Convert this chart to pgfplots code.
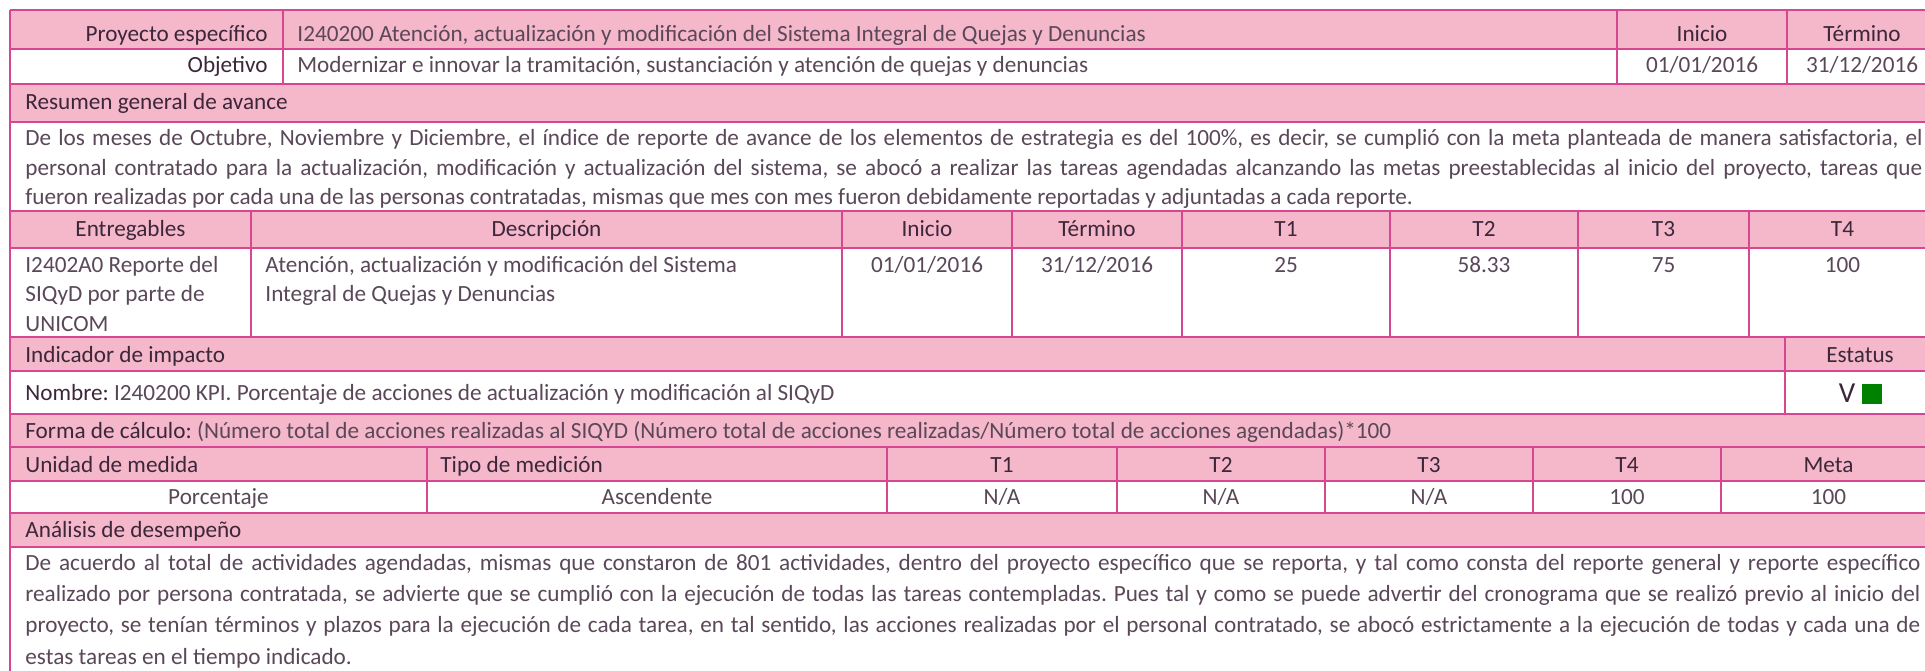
\documentclass[border=0pt]{standalone}
\usepackage{fontspec}
\setmainfont{Carlito}
\usepackage{pgfplots}
\pgfplotsset{compat=1.18}
\definecolor{hdr}{HTML}{F4B8CA}
\definecolor{bdr}{HTML}{D74691}
\definecolor{tH}{HTML}{3C2639}
\definecolor{tB}{HTML}{5A4758}
\definecolor{okgreen}{HTML}{008000}
\newcommand\J[2]{\hbox to #1{\frenchspacing\spaceskip=0.226em plus 3em minus 0.12em\relax #2}}
\begin{document}
\frenchspacing
\fontsize{11.6pt}{14pt}\selectfont
\begin{tikzpicture}
\useasboundingbox (0,0) rectangle (962.5pt,335pt);
\tikzset{
  L/.style={anchor=base west, inner sep=0pt, text=tB},
  R/.style={anchor=base east, inner sep=0pt, text=tB},
  C/.style={anchor=base, inner sep=0pt, text=tB},
  H/.style={text=tH},
  B/.style={draw=bdr, line width=1pt},
}
\begin{axis}[
  at={(0,0)}, anchor=south west,
  scale only axis, width=962.5pt, height=335pt,
  xmin=0, xmax=1925, ymin=0, ymax=670, y dir=reverse,
  axis lines=none, clip=true,
]
% pink header rows
\addplot[fill=hdr, draw=none] coordinates {(10,10) (1940,10) (1940,49) (10,49)} -- cycle;
\addplot[fill=hdr, draw=none] coordinates {(10,84) (1940,84) (1940,122) (10,122)} -- cycle;
\addplot[fill=hdr, draw=none] coordinates {(10,211) (1940,211) (1940,248) (10,248)} -- cycle;
\addplot[fill=hdr, draw=none] coordinates {(10,337) (1940,337) (1940,371) (10,371)} -- cycle;
\addplot[fill=hdr, draw=none] coordinates {(10,414) (1940,414) (1940,481) (10,481)} -- cycle;
\addplot[fill=hdr, draw=none] coordinates {(10,513) (1940,513) (1940,547) (10,547)} -- cycle;
% horizontal rules
\draw[B] (axis cs:10,10) -- (axis cs:1940,10);
\draw[B] (axis cs:10,49) -- (axis cs:1940,49);
\draw[B] (axis cs:10,84) -- (axis cs:1940,84);
\draw[B] (axis cs:10,122) -- (axis cs:1940,122);
\draw[B] (axis cs:10,211) -- (axis cs:1940,211);
\draw[B] (axis cs:10,248) -- (axis cs:1940,248);
\draw[B] (axis cs:10,337) -- (axis cs:1940,337);
\draw[B] (axis cs:10,371) -- (axis cs:1940,371);
\draw[B] (axis cs:10,414) -- (axis cs:1940,414);
\draw[B] (axis cs:10,447) -- (axis cs:1940,447);
\draw[B] (axis cs:10,481) -- (axis cs:1940,481);
\draw[B] (axis cs:10,513) -- (axis cs:1940,513);
\draw[B] (axis cs:10,547) -- (axis cs:1940,547);
% vertical rules
\draw[B] (axis cs:10,10) -- (axis cs:10,680);
\draw[B] (axis cs:283,10) -- (axis cs:283,84);
\draw[B] (axis cs:1617,10) -- (axis cs:1617,84);
\draw[B] (axis cs:1787,10) -- (axis cs:1787,84);
\draw[B] (axis cs:251,211) -- (axis cs:251,337);
\draw[B] (axis cs:842,211) -- (axis cs:842,337);
\draw[B] (axis cs:1012,211) -- (axis cs:1012,337);
\draw[B] (axis cs:1182,211) -- (axis cs:1182,337);
\draw[B] (axis cs:1390,211) -- (axis cs:1390,337);
\draw[B] (axis cs:1578,211) -- (axis cs:1578,337);
\draw[B] (axis cs:1749,211) -- (axis cs:1749,337);
\draw[B] (axis cs:1785,337) -- (axis cs:1785,414);
\draw[B] (axis cs:427,447) -- (axis cs:427,513);
\draw[B] (axis cs:887,447) -- (axis cs:887,513);
\draw[B] (axis cs:1117,447) -- (axis cs:1117,513);
\draw[B] (axis cs:1325,447) -- (axis cs:1325,513);
\draw[B] (axis cs:1533,447) -- (axis cs:1533,513);
\draw[B] (axis cs:1721,447) -- (axis cs:1721,513);
% row 1-2
\node[R,H] at (axis cs:268,41.5) {Proyecto específico};
\node[L] at (axis cs:297,41.5) {I240200 Atención, actualización y modificación del Sistema Integral de Quejas y Denuncias};
\node[C,H] at (axis cs:1702,41.5) {Inicio};
\node[C,H] at (axis cs:1862,41.5) {Término};
\node[R,H] at (axis cs:268,72.3) {Objetivo};
\node[L] at (axis cs:297,72.3) {Modernizar e innovar la tramitación, sustanciación y atención de quejas y denuncias};
\node[C] at (axis cs:1702,72.3) {01/01/2016};
\node[C] at (axis cs:1862,72.3) {31/12/2016};
% resumen
\node[L,H] at (axis cs:25,109) {Resumen general de avance};
\node[L] at (axis cs:25,145.7) {\J{948.5pt}{De los meses de Octubre, Noviembre y Diciembre, el índice de reporte de avance de los elementos de estrategia es del 100\%, es decir, se cumplió con la meta planteada de manera satisfactoria, el}};
\node[L] at (axis cs:25,175) {\J{948.5pt}{personal contratado para la actualización, modificación y actualización del sistema, se abocó a realizar las tareas agendadas alcanzando las metas preestablecidas al inicio del proyecto, tareas que}};
\node[L] at (axis cs:25,204) {fueron realizadas por cada una de las personas contratadas, mismas que mes con mes fueron debidamente reportadas y adjuntadas a cada reporte.};
% entregables
\node[C,H] at (axis cs:130.5,236) {Entregables};
\node[C,H] at (axis cs:546.5,236) {Descripción};
\node[C,H] at (axis cs:927,236) {Inicio};
\node[C,H] at (axis cs:1097,236) {Término};
\node[C,H] at (axis cs:1286,236) {T1};
\node[C,H] at (axis cs:1484,236) {T2};
\node[C,H] at (axis cs:1663.5,236) {T3};
\node[C,H] at (axis cs:1842.5,236) {T4};
\node[L] at (axis cs:25,272) {I2402A0 Reporte del};
\node[L] at (axis cs:25,301.5) {SIQyD por parte de};
\node[L] at (axis cs:25,331) {UNICOM};
\node[L] at (axis cs:265,272) {Atención, actualización y modificación del Sistema};
\node[L] at (axis cs:265,301.5) {Integral de Quejas y Denuncias};
\node[C] at (axis cs:927,272) {01/01/2016};
\node[C] at (axis cs:1097,272) {31/12/2016};
\node[C] at (axis cs:1286,272) {25};
\node[C] at (axis cs:1484,272) {58.33};
\node[C] at (axis cs:1663.5,272) {75};
\node[C] at (axis cs:1842.5,272) {100};
% indicador
\node[L,H] at (axis cs:25,362) {Indicador de impacto};
\node[C,H] at (axis cs:1860,362) {Estatus};
\node[L] at (axis cs:25,400) {\textcolor{tH}{Nombre:} I240200 KPI. Porcentaje de acciones de actualización y modificación al SIQyD};
\node[C,H,font=\fontsize{14.5pt}{16pt}\selectfont] at (axis cs:1847,402) {V};
\addplot[only marks, mark=square*, mark size=4.75pt, color=okgreen] coordinates {(1871.5,393.5)};
\node[L] at (axis cs:25,438) {\textcolor{tH}{Forma de cálculo:} (Número total de acciones realizadas al SIQYD (Número total de acciones realizadas/Número total de acciones agendadas)*100};
% unidad
\node[L,H] at (axis cs:25,472) {Unidad de medida};
\node[L,H] at (axis cs:440,472) {Tipo de medición};
\node[C,H] at (axis cs:1002,472) {T1};
\node[C,H] at (axis cs:1221,472) {T2};
\node[C,H] at (axis cs:1429,472) {T3};
\node[C,H] at (axis cs:1627,472) {T4};
\node[C,H] at (axis cs:1828.5,472) {Meta};
\node[C] at (axis cs:218.5,504) {Porcentaje};
\node[C] at (axis cs:657,504) {Ascendente};
\node[C] at (axis cs:1002,504) {N/A};
\node[C] at (axis cs:1221,504) {N/A};
\node[C] at (axis cs:1429,504) {N/A};
\node[C] at (axis cs:1627,504) {100};
\node[C] at (axis cs:1828.5,504) {100};
% analisis
\node[L,H] at (axis cs:25,537) {Análisis de desempeño};
\node[L] at (axis cs:25,570.7) {\J{947.5pt}{De acuerdo al total de actividades agendadas, mismas que constaron de 801 actividades, dentro del proyecto específico que se reporta, y tal como consta del reporte general y reporte específico}};
\node[L] at (axis cs:25,601.7) {\J{947.5pt}{realizado por persona contratada, se advierte que se cumplió con la ejecución de todas las tareas contempladas. Pues tal y como se puede advertir del cronograma que se realizó previo al inicio del}};
\node[L] at (axis cs:25,632.7) {\J{947.5pt}{proyecto, se tenían términos y plazos para la ejecución de cada tarea, en tal sentido, las acciones realizadas por el personal contratado, se abocó estrictamente a la ejecución de todas y cada una de}};
\node[L] at (axis cs:25,664) {estas tareas en el tiempo indicado.};
\end{axis}
\end{tikzpicture}
\end{document}
